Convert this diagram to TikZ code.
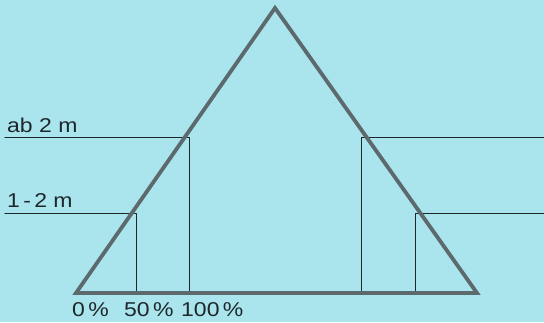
\documentclass[tikz,border=0pt]{standalone}
\usepackage{fontspec}
\setmainfont[FakeStretch=1.15]{Liberation Sans}
\usetikzlibrary{calc}
\definecolor{sky}{RGB}{170,228,236}
\definecolor{roof}{RGB}{92,106,110}
\definecolor{ink}{RGB}{30,40,44}
\begin{document}
\begin{tikzpicture}[x=1pt, y=-1pt, line cap=round, line join=round,
  mark line/.style={ink, line width=1.1pt},
  lbl/.style={text=ink, font=\fontsize{20}{22}\selectfont, inner sep=0pt}]
  % background, same size as the picture
  \fill[sky] (0,0) rectangle (544,322);
  \useasboundingbox (0,0) rectangle (544,322);
  % Triangle: apex A, base corners L and R.
  \coordinate (A) at (275, 8);
  \coordinate (L) at (76, 293);
  \coordinate (R) at (477, 293);
  % Height marks on the left side (ab 2 m upper, 1-2 m lower),
  % taken on the inner edge of the thick side.
  \coordinate (P) at ($(L)!0.545!(A) + (5,0)$);  % y ~ 138
  \coordinate (Q) at ($(L)!0.28!(A) + (5,0)$);   % y ~ 213
  % Same heights on the right side.
  \coordinate (S) at ($(R)!0.545!(A) + (-5,0)$);
  \coordinate (T) at ($(R)!0.28!(A) + (-5,0)$);
  % feet of the verticals on the base
  \coordinate (Pb) at (P |- L);
  \coordinate (Qb) at (Q |- L);
  \coordinate (Sb) at (S |- R);
  \coordinate (Tb) at (T |- R);
  % free ends of the horizontals
  \coordinate (Pl) at (5, 0 |- P);
  \coordinate (Ql) at (5, 0 |- Q);
  \coordinate (Sr) at (544, 0 |- S);
  \coordinate (Tr) at (544, 0 |- T);
  \draw[mark line] (Pl) -- (P) -- (Pb);
  \draw[mark line] (Ql) -- (Q) -- (Qb);
  \draw[mark line] (Sr) -- (S) -- (Sb);
  \draw[mark line] (Tr) -- (T) -- (Tb);
  \draw[roof, line width=3.8pt, line cap=butt, line join=miter] (L) -- (A) -- (R) -- cycle;
  % labels
  \node[lbl, anchor=base west] (ab)   at (7, 132) {ab 2 m};
  \node[lbl, anchor=base west] (one)  at (7, 207) {1\,-\,2 m};
  \node[lbl, anchor=base west] (p0)   at (72, 316) {0\,\%};
  \node[lbl, anchor=base west] (p50)  at (124, 316) {50\,\%};
  \node[lbl, anchor=base west] (p100) at (181, 316) {100\,\%};
\end{tikzpicture}
\end{document}
